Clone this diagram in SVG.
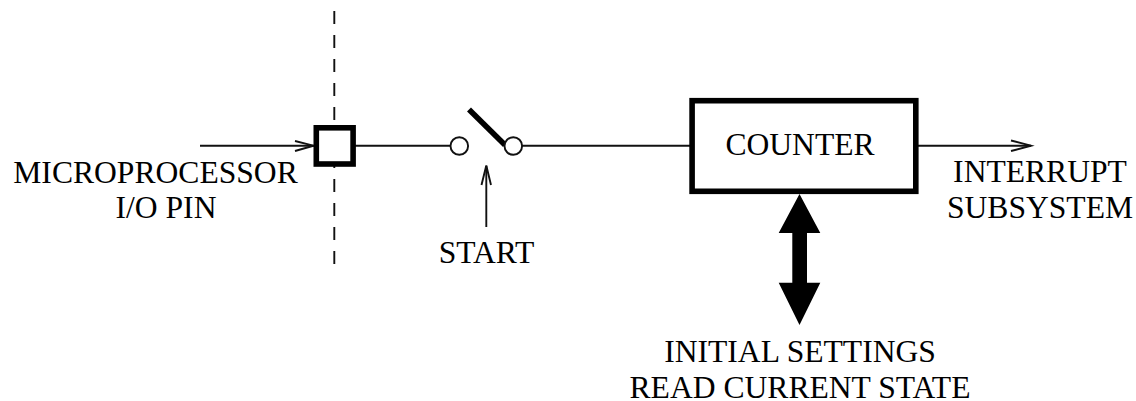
<svg xmlns="http://www.w3.org/2000/svg" width="1136" height="401" viewBox="0 0 1136 401">
<style>
text{font-family:"Liberation Serif","Times New Roman",serif;font-size:31.6px;fill:#000;text-anchor:middle}
.l{fill:none;stroke:#111;stroke-width:1.9}
.h{fill:#fff;stroke:#000;stroke-width:5.6}
.c{fill:#fff;stroke:#111;stroke-width:1.9}
</style>
<rect width="1136" height="401" fill="#fff"/>
<g id="connectors">
<line class="l" x1="334.3" y1="11" x2="334.3" y2="273" stroke-dasharray="13 11"/>
<path class="l" d="M200 145.7H314"/><path class="l" d="M295 141L313.5 145.7L295 151"/>
<path class="l" d="M355 145.7H451"/>
<path class="l" d="M522 145.7H692"/>
<path class="l" d="M918 145.7H1031"/><path class="l" d="M1011 140.5L1031 145.7L1011 151"/>
<path class="l" d="M486.3 227V166"/><path class="l" d="M481.5 185L486.3 165.5L491 185"/>
<path d="M799.5 194L820.3 233H807V282.7H820.3L799.5 325L778.7 282.7H792.3V233H778.7Z" fill="#000"/>
</g>
<g id="pin"><rect class="h" x="316.3" y="127.8" width="36.8" height="36.2"/></g>
<g id="switch"><line x1="469" y1="109.5" x2="505" y2="145" stroke="#000" stroke-width="5.6"/><circle class="c" cx="459.3" cy="146" r="8.8"/><circle class="c" cx="513.3" cy="146" r="8.8"/></g>
<g id="counter"><rect class="h" x="692.1" y="100.7" width="223.7" height="90.6"/><text x="800" y="155">COUNTER</text></g>
<g id="labels">
<text x="155.5" y="182.5">MICROPROCESSOR</text>
<text x="166" y="218">I/O PIN</text>
<text x="486.5" y="262.5">START</text>
<text x="1040" y="182">INTERRUPT</text>
<text x="1040" y="218">SUBSYSTEM</text>
<text x="800" y="362">INITIAL SETTINGS</text>
<text x="800" y="397.5">READ CURRENT STATE</text>
</g>
</svg>
